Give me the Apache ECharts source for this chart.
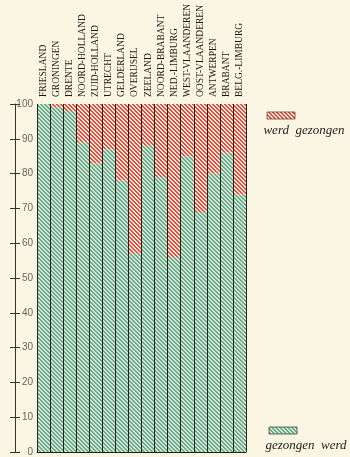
<!DOCTYPE html>
<html>
<head>
<meta charset="utf-8">
<script src="https://cdn.jsdelivr.net/npm/echarts@6/dist/echarts.min.js"></script>
<style>
  html, body { margin: 0; padding: 0; background: #fbf6e3; }
  #chart { width: 350px; height: 457px; }
</style>
</head>
<body>
<div id="chart"></div>
<script>
// Provinces, Netherlands then Flanders
const provinces = [
  'FRIESLAND', 'GRONINGEN', 'DRENTE', 'NOORD-HOLLAND', 'ZUID-HOLLAND',
  'UTRECHT', 'GELDERLAND', 'OVERIJSEL', 'ZEELAND', 'NOORD-BRABANT',
  'NED.-LIMBURG', 'WEST-VLAANDEREN', 'OOST-VLAANDEREN', 'ANTWERPEN',
  'BRABANT', 'BELG.-LIMBURG'
];
// Percentage per province for "gezongen werd"
const gezongenWerd = [100, 99, 98, 89, 83, 87, 78, 57, 88, 79, 56, 85, 69, 80, 86, 74];
// Remainder: "werd gezongen"
const werdGezongen = gezongenWerd.map(v => 100 - v);
const yTicks = [0, 10, 20, 30, 40, 50, 60, 70, 80, 90, 100];

// Diagonal hatch tile: 2-px stripes on a 4-px period
function hatch(base, stripe) {
  const c = document.createElement('canvas');
  c.width = 8; c.height = 8;
  const g = c.getContext('2d');
  g.fillStyle = base; g.fillRect(0, 0, 8, 8);
  g.fillStyle = stripe;
  for (let y = 0; y < 8; y++) {
    for (let x = 0; x < 8; x++) {
      const k = ((x - y) % 4 + 4) % 4;
      if (k < 2) g.fillRect(x, y, 1, 1);
    }
  }
  return c;
}
const greenTile = hatch('#d2e7d6', '#6aa889');
const redTile = hatch('#fde9df', '#ec4a34');
const greenFill = { image: greenTile, repeat: 'repeat' };
const redFill = { image: redTile, repeat: 'repeat' };

const chart = echarts.init(document.getElementById('chart'), null, { renderer: 'canvas' });

const axisColor = '#3a3430';
const yBase = {
  type: 'value', min: 0, max: 100, interval: 10,
  position: 'left', offset: 22,
  splitLine: { show: false }
};

chart.setOption({
  backgroundColor: '#fbf6e3',
  animation: false,
  grid: { left: 37, right: 104, top: 104, bottom: 5 },
  xAxis: [{
    type: 'category', data: provinces, position: 'top', z: 5,
    axisLine: { show: false }, axisTick: { show: false },
    splitLine: { show: true, interval: 0, lineStyle: { color: '#24221f', width: 1 } },
    axisLabel: {
      interval: 0, rotate: 90, margin: 7,
      fontFamily: 'Liberation Serif', fontSize: 9.5, color: '#1e1a16'
    }
  }, {
    type: 'category', data: provinces, position: 'bottom', z: 5,
    axisLine: { show: true, lineStyle: { color: '#24221f', width: 1 } },
    axisTick: { show: false }, axisLabel: { show: false }
  }],
  yAxis: [Object.assign({}, yBase, {
    axisLine: { show: true, lineStyle: { color: axisColor, width: 1 } },
    axisTick: { show: true, inside: false, length: 5, lineStyle: { color: axisColor } },
    axisLabel: {
      inside: true, margin: 18, align: 'right',
      fontFamily: 'Liberation Sans', fontSize: 10, color: '#6a645c',
      customValues: yTicks
    }
  }), Object.assign({}, yBase, {
    axisLine: { show: false },
    axisTick: { show: true, inside: true, length: 5, lineStyle: { color: axisColor } },
    axisLabel: { show: false }
  })],
  series: [{
    name: 'gezongen werd', type: 'bar', stack: 'p', data: gezongenWerd,
    barWidth: '100%', barCategoryGap: 0,
    itemStyle: { color: greenFill }
  }, {
    name: 'werd gezongen', type: 'bar', stack: 'p', data: werdGezongen,
    barWidth: '100%', barCategoryGap: 0,
    itemStyle: { color: redFill }
  }],
  graphic: [
    { type: 'rect', shape: { x: 267, y: 112, width: 28, height: 7 },
      style: { fill: redFill, stroke: '#5a4a40', lineWidth: 0.8 } },
    { type: 'text', x: 304, y: 131,
      style: { text: 'werd  gezongen', align: 'center', verticalAlign: 'middle',
        font: 'italic 13px "Liberation Serif"', fill: '#1e1a18' } },
    { type: 'rect', shape: { x: 269, y: 427, width: 28, height: 7 },
      style: { fill: greenFill, stroke: '#3a4a40', lineWidth: 0.8 } },
    { type: 'text', x: 306, y: 446,
      style: { text: 'gezongen  werd', align: 'center', verticalAlign: 'middle',
        font: 'italic 13px "Liberation Serif"', fill: '#1e1a18' } }
  ]
});
</script>
</body>
</html>
